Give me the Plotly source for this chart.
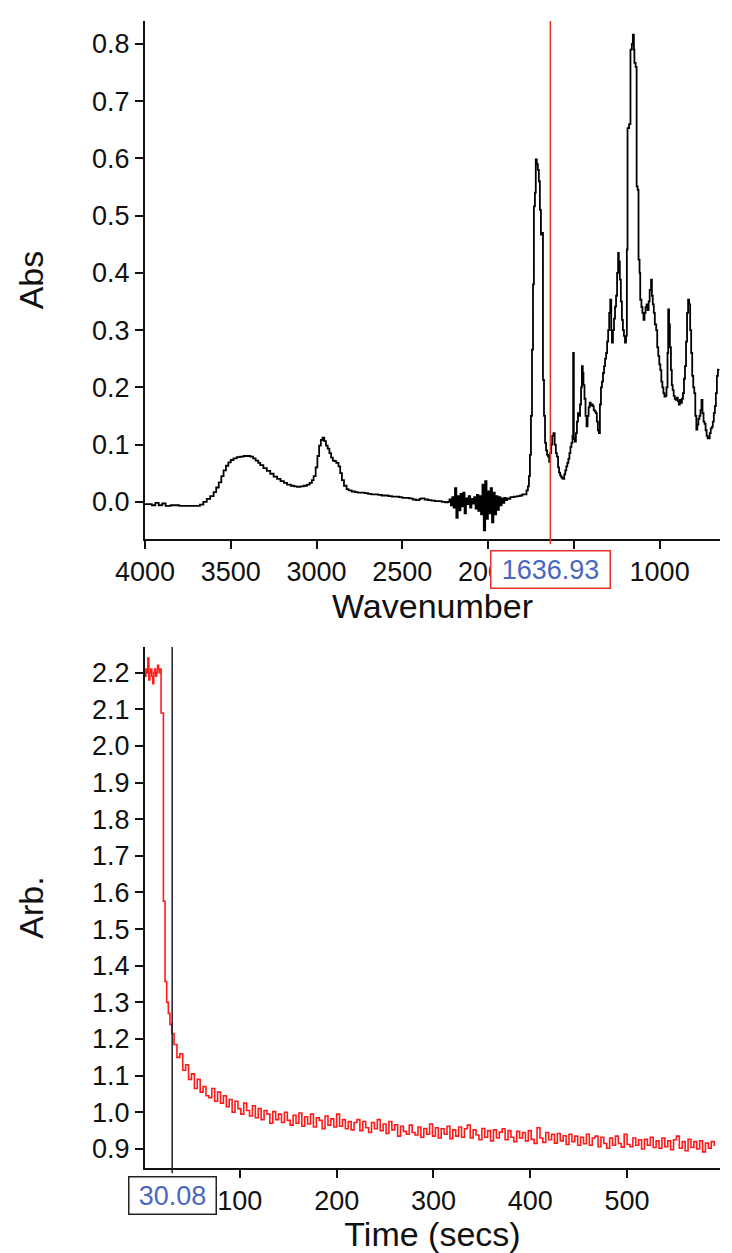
import plotly.graph_objects as go

# ---- FTIR spectrum (top panel) ----
wavenumber = [
    4000, 3960, 3940, 3920, 3900, 3880, 3850, 3800, 3750, 3700, 3680,
    3660, 3640, 3620, 3600, 3585, 3570, 3555, 3542, 3528, 3514, 3500, 3484,
    3465, 3445, 3425, 3405, 3386, 3370, 3355, 3340, 3328, 3310, 3290, 3270,
    3250, 3230, 3210, 3190, 3172, 3150, 3130, 3114, 3095, 3075, 3056, 3040,
    3027, 3017, 3005, 2995, 2985, 2975, 2965, 2955, 2945, 2935, 2925, 2915,
    2905, 2895, 2885, 2872, 2862, 2852, 2840, 2825, 2813, 2795, 2775, 2760,
    2745, 2720, 2700, 2680, 2660, 2640, 2620, 2600, 2580, 2560, 2540, 2520,
    2500, 2480, 2460, 2440, 2420, 2400, 2390, 2370, 2350, 2330, 2310, 2290,
    2270, 2250, 2235,
    2225, 2217, 2209, 2201, 2193, 2185, 2177, 2169, 2161, 2153, 2145, 2137,
    2129, 2121, 2113, 2105, 2097, 2089, 2081, 2073, 2065, 2057, 2049, 2041,
    2033, 2025, 2017, 2009, 2001, 1993, 1985, 1977, 1969, 1961, 1953, 1945,
    1937, 1929, 1921, 1913, 1905, 1897, 1889, 1880,
    1870, 1850, 1830, 1813, 1800,
    1790, 1776, 1768, 1762, 1756, 1750, 1744, 1738, 1733, 1727, 1722, 1716,
    1710, 1704, 1698, 1692, 1686, 1680, 1674, 1668, 1662, 1656, 1650, 1644,
    1638, 1632, 1626, 1619, 1612, 1605, 1599, 1592, 1586, 1580, 1574, 1568,
    1562, 1556, 1550, 1544, 1538, 1532, 1526, 1520, 1514,
    1508, 1504, 1500, 1494, 1488, 1482, 1476, 1470, 1464, 1458, 1453, 1448,
    1444, 1438, 1432, 1426, 1420, 1414, 1408, 1402, 1396, 1390, 1384, 1378,
    1372, 1366, 1360, 1354, 1348, 1342, 1336, 1330, 1324, 1318, 1312, 1306,
    1300, 1294, 1288, 1282, 1278, 1272, 1266, 1260, 1254, 1248, 1242, 1238,
    1232, 1226, 1220, 1214, 1208, 1202, 1196, 1191, 1187, 1178, 1170, 1162,
    1156, 1150, 1147, 1140, 1134, 1128,
    1123, 1117, 1113, 1106, 1100, 1094, 1088, 1082, 1076, 1070, 1064, 1058,
    1050, 1045, 1040, 1034, 1028, 1020, 1014, 1008, 1002, 996, 990, 984,
    978, 972, 966, 960, 954, 950, 945, 940, 934, 929, 924, 918,
    912, 906, 900, 894, 888, 882, 876, 870, 864, 858, 852, 846,
    840, 834, 828, 822, 816, 810, 804, 798, 792, 786, 780, 774,
    768, 762, 756, 750, 744, 738, 732, 726, 720, 714, 708, 702,
    696, 690, 684, 678, 672, 666, 660, 656,
]
absorbance = [
    -0.004, -0.006, -0.002, -0.006, -0.003, -0.007, -0.006, -0.007, -0.007, -0.007, -0.005,
    0.000, 0.005, 0.010, 0.017, 0.025, 0.034, 0.045, 0.055, 0.063, 0.069, 0.073, 0.076,
    0.078, 0.079, 0.080, 0.080, 0.079, 0.076, 0.072, 0.068, 0.064, 0.059, 0.054, 0.049,
    0.044, 0.040, 0.036, 0.033, 0.030, 0.028, 0.027, 0.026, 0.027, 0.028, 0.030, 0.033,
    0.038, 0.045, 0.060, 0.080, 0.098, 0.108, 0.112, 0.106, 0.098, 0.093, 0.085, 0.077,
    0.072, 0.071, 0.068, 0.062, 0.050, 0.038, 0.028, 0.022, 0.020, 0.018, 0.017, 0.016,
    0.016, 0.015, 0.014, 0.013, 0.013, 0.012, 0.011, 0.011, 0.010, 0.009, 0.009, 0.008,
    0.007, 0.007, 0.006, 0.004, 0.003, 0.005, 0.006, 0.004, 0.003, 0.002, 0.001, 0.001,
    0.000, -0.001, 0.000,
    0.004, -0.006, 0.008, -0.010, 0.024, -0.028, 0.010, -0.015, 0.014, -0.008, 0.016, -0.020,
    0.006, -0.004, 0.010, -0.010, 0.005, -0.003, 0.008, -0.012, 0.012, -0.016, 0.010, -0.022,
    0.030, -0.050, 0.036, -0.030, 0.018, -0.020, 0.024, -0.036, 0.016, -0.022, 0.010, -0.014,
    0.008, -0.006, 0.006, -0.002, 0.007, 0.003, 0.006, 0.005,
    0.008, 0.009, 0.010, 0.011, 0.013,
    0.013, 0.020, 0.027, 0.045, 0.082, 0.150, 0.266, 0.380, 0.516, 0.540, 0.598, 0.590,
    0.580, 0.560, 0.510, 0.467, 0.470, 0.213, 0.150, 0.103, 0.090, 0.082, 0.079, 0.070,
    0.085, 0.100, 0.115, 0.120, 0.100, 0.085, 0.079, 0.060, 0.051, 0.046, 0.043, 0.041,
    0.040, 0.048, 0.055, 0.062, 0.068, 0.075, 0.085, 0.096, 0.103,
    0.115, 0.260, 0.110, 0.105, 0.120, 0.140, 0.155, 0.150, 0.170, 0.200, 0.237, 0.225,
    0.204, 0.180, 0.150, 0.132, 0.150, 0.165, 0.173, 0.168, 0.170, 0.167, 0.160, 0.158,
    0.155, 0.140, 0.125, 0.120, 0.170, 0.200, 0.210, 0.225, 0.237, 0.250, 0.260, 0.280,
    0.300, 0.330, 0.353, 0.300, 0.278, 0.300, 0.320, 0.341, 0.360, 0.400, 0.435, 0.420,
    0.388, 0.350, 0.318, 0.300, 0.290, 0.278, 0.290, 0.441, 0.653, 0.660, 0.790, 0.800,
    0.816, 0.790, 0.767, 0.760, 0.551, 0.545,
    0.423, 0.400, 0.353, 0.340, 0.330, 0.318, 0.330, 0.340, 0.345, 0.335, 0.350, 0.370,
    0.388, 0.360, 0.345, 0.330, 0.310, 0.300, 0.270, 0.255, 0.240, 0.230, 0.210, 0.200,
    0.190, 0.184, 0.185, 0.200, 0.260, 0.336, 0.310, 0.270, 0.230, 0.204, 0.195, 0.185,
    0.180, 0.178, 0.182, 0.176, 0.170, 0.178, 0.173, 0.180, 0.190, 0.215, 0.237, 0.280,
    0.330, 0.353, 0.345, 0.300, 0.260, 0.220, 0.200, 0.190, 0.150, 0.126, 0.135, 0.145,
    0.150, 0.160, 0.178, 0.155, 0.140, 0.136, 0.125, 0.115, 0.111, 0.111, 0.120, 0.128,
    0.131, 0.140, 0.155, 0.167, 0.190, 0.220, 0.231, 0.232,
]
wn_ticks = [4000, 3500, 3000, 2500, 2000, 1500, 1000]
abs_ticks = [0.0, 0.1, 0.2, 0.3, 0.4, 0.5, 0.6, 0.7, 0.8]
wn_cursor = 1636.93

# ---- kinetic trace (bottom panel) ----
time_early = [1, 2, 3, 4, 5, 6, 7, 8, 9, 10, 11, 12, 13, 14, 15, 16, 17, 18,
              18.6, 21, 22.7, 24.4, 26.1, 27.8, 29.6]
arb_early = [2.20, 2.19, 2.21, 2.20, 2.24, 2.18, 2.20, 2.21, 2.19, 2.17, 2.20, 2.21,
             2.19, 2.20, 2.22, 2.21, 2.20, 2.21,
             2.09, 1.576, 1.357, 1.30, 1.27, 1.24, 1.215]
time_late = list(range(32, 591, 3))
arb_late = [
    1.185, 1.150, 1.160, 1.115, 1.130, 1.090, 1.105, 1.065, 1.090, 1.055,
    1.070, 1.045, 1.040, 1.065, 1.030, 1.055, 1.025, 1.045, 1.015, 1.035,
    1.000, 1.030, 1.010, 0.995, 1.025, 1.005, 0.990, 1.018, 0.985, 1.010,
    0.980, 1.005, 0.995, 0.970, 1.002, 0.980, 0.995, 0.972, 1.000, 0.978,
    0.965, 0.992, 0.970, 0.998, 0.962, 0.988, 0.968, 0.995, 0.960, 0.985,
    0.978, 0.955, 0.990, 0.965, 0.982, 0.960, 0.995, 0.962, 0.980, 0.955,
    0.975, 0.952, 0.972, 0.980, 0.950, 0.975, 0.958, 0.945, 0.972, 0.955,
    0.980, 0.950, 0.968, 0.942, 0.975, 0.952, 0.966, 0.935, 0.962, 0.948,
    0.940, 0.965, 0.945, 0.938, 0.960, 0.932, 0.956, 0.940, 0.968, 0.935,
    0.958, 0.930, 0.955, 0.940, 0.962, 0.928, 0.952, 0.935, 0.960, 0.932,
    0.955, 0.965, 0.930, 0.952, 0.938, 0.925, 0.956, 0.932, 0.950, 0.922,
    0.952, 0.930, 0.946, 0.955, 0.925, 0.950, 0.932, 0.920, 0.948, 0.930,
    0.945, 0.922, 0.950, 0.926, 0.915, 0.958, 0.930, 0.918, 0.945, 0.925,
    0.940, 0.916, 0.942, 0.922, 0.936, 0.912, 0.940, 0.920, 0.935, 0.910,
    0.932, 0.914, 0.940, 0.910, 0.930, 0.935, 0.906, 0.932, 0.915, 0.902,
    0.930, 0.910, 0.935, 0.915, 0.905, 0.940, 0.912, 0.906, 0.930, 0.910,
    0.925, 0.900, 0.926, 0.910, 0.932, 0.904, 0.922, 0.902, 0.930, 0.906,
    0.922, 0.898, 0.925, 0.935, 0.902, 0.920, 0.895, 0.926, 0.904, 0.920,
    0.900, 0.922, 0.892, 0.916, 0.902, 0.920, 0.908,
]
time_ticks = [0, 100, 200, 300, 400, 500]
arb_ticks = [0.9, 1.0, 1.1, 1.2, 1.3, 1.4, 1.5, 1.6, 1.7, 1.8, 1.9, 2.0, 2.1, 2.2]
time_cursor = 30.08

W, H = 732, 1253
FONT = 'Liberation Sans, Arial, Helvetica, sans-serif'
INK = '#111111'
READOUT = '#4a68c0'

fig = go.Figure()
fig.add_trace(go.Scatter(x=wavenumber, y=absorbance, mode='lines',
                         line=dict(color='black', width=1.8, shape='hv'),
                         xaxis='x', yaxis='y', showlegend=False))
fig.add_trace(go.Scatter(x=time_early + time_late, y=arb_early + arb_late, mode='lines',
                         line=dict(color='#ff1a1a', width=1.6, shape='hv'),
                         xaxis='x2', yaxis='y2', showlegend=False))

axis = dict(showline=True, linecolor=INK, linewidth=2, ticks='outside', ticklen=8,
            tickwidth=1.5, tickcolor=INK, showgrid=False, zeroline=False,
            automargin=False, tickfont=dict(size=27, color=INK),
            title_font=dict(size=34, color=INK))

fig.update_layout(
    width=W, height=H, template='none',
    paper_bgcolor='white', plot_bgcolor='white',
    margin=dict(l=0, r=0, t=0, b=0),
    font=dict(family=FONT, color=INK),
    xaxis=dict(axis, domain=[145 / W, 720 / W], anchor='y', range=[4000, 648],
               tickvals=wn_ticks, title=dict(text='Wavenumber', standoff=0)),
    yaxis=dict(axis, domain=[1 - 539 / H, 1 - 21 / H], anchor='x', range=[-0.065, 0.84],
               tickvals=abs_ticks, tickformat='.1f',
               title=dict(text='Abs', standoff=38)),
    xaxis2=dict(axis, domain=[145 / W, 720 / W], anchor='y2', range=[2, 596],
                tickvals=time_ticks, title=dict(text='Time (secs)', standoff=0)),
    yaxis2=dict(axis, domain=[1 - 1168 / H, 1 - 647 / H], anchor='x2', range=[0.848, 2.27],
                tickvals=arb_ticks, tickformat='.1f',
                title=dict(text='Arb.', standoff=38)),
)

# cursor lines
fig.add_shape(type='line', xref='x', yref='y domain', x0=wn_cursor, x1=wn_cursor,
              y0=-0.01, y1=1, line=dict(color='#e8302a', width=1.5))
fig.add_shape(type='line', xref='x2', yref='y2 domain', x0=time_cursor, x1=time_cursor,
              y0=-0.01, y1=1, line=dict(color='#1c1c2a', width=1.5))

# cursor readouts sitting over the tick labels
fig.add_annotation(x=wn_cursor, xref='x', y=1 - 569 / H, yref='paper', yanchor='middle',
                   text=f'{wn_cursor:.2f}', showarrow=False,
                   font=dict(size=27, color=READOUT), bgcolor='white',
                   bordercolor='#e8302a', borderwidth=1.5, borderpad=3,
                   width=112, height=30)
fig.add_annotation(x=time_cursor, xref='x2', y=1 - 1195 / H, yref='paper', yanchor='middle',
                   text=f'{time_cursor:.2f}', showarrow=False,
                   font=dict(size=27, color=READOUT), bgcolor='white',
                   bordercolor='#222222', borderwidth=1.5, borderpad=3,
                   width=80, height=30)

# drop the default page margin so the figure sits at the window's top-left corner
fig.write_html('out.html', config={'displayModeBar': False},
               post_script="document.body.style.margin = '0';")
